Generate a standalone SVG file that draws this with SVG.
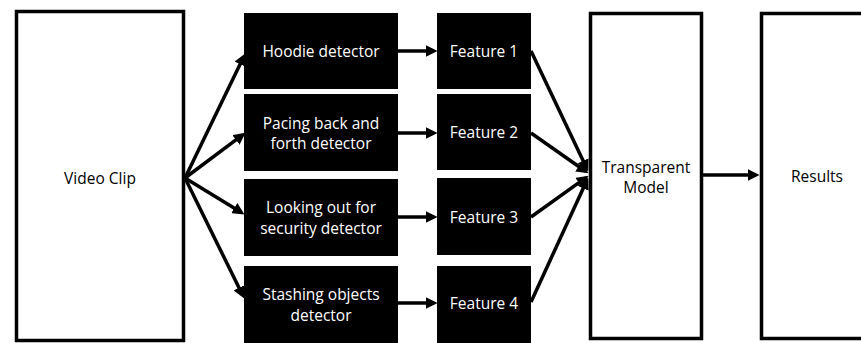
<svg xmlns="http://www.w3.org/2000/svg" width="861" height="343" viewBox="0 0 861 343">
  <defs>
    <marker id="arrow" markerUnits="userSpaceOnUse" markerWidth="12" markerHeight="12" refX="7" refY="5" orient="auto" viewBox="0 0 10 10">
      <path d="M0,0 L10,5 L0,10 z" fill="#000"/>
    </marker>
  </defs>
  <style>
    .frame { fill: #fff; stroke: #000; stroke-width: 3.5; }
    .block { fill: #000; }
    .label { font-family: "Open Sans", "Liberation Sans", sans-serif; font-size: 15.5px; text-anchor: middle; dominant-baseline: central; }
    .dark { fill: #000; }
    .light { fill: #fff; }
    .conn line { stroke: #000; stroke-width: 3.5; marker-end: url(#arrow); }
  </style>
  <rect width="861" height="343" fill="#fff"/>

  <g id="video-clip">
    <rect class="frame" x="16.5" y="11.5" width="167" height="329"/>
    <text class="label dark" x="100" y="178">Video Clip</text>
  </g>

  <g id="hoodie-detector">
    <rect class="block" x="244" y="13" width="154" height="76"/>
    <text class="label light" x="321" y="51">Hoodie detector</text>
  </g>
  <g id="pacing-detector">
    <rect class="block" x="244" y="94" width="154" height="77"/>
    <text class="label light" x="321" y="123">Pacing back and</text>
    <text class="label light" x="321" y="143">forth detector</text>
  </g>
  <g id="lookout-detector">
    <rect class="block" x="244" y="179" width="154" height="77"/>
    <text class="label light" x="321" y="207">Looking out for</text>
    <text class="label light" x="321" y="228">security detector</text>
  </g>
  <g id="stashing-detector">
    <rect class="block" x="244" y="266" width="154" height="77"/>
    <text class="label light" x="321" y="294">Stashing objects</text>
    <text class="label light" x="321" y="315">detector</text>
  </g>

  <g id="feature-1">
    <rect class="block" x="437" y="13" width="94" height="76"/>
    <text class="label light" x="484" y="51">Feature 1</text>
  </g>
  <g id="feature-2">
    <rect class="block" x="437" y="94" width="94" height="76"/>
    <text class="label light" x="484" y="132">Feature 2</text>
  </g>
  <g id="feature-3">
    <rect class="block" x="437" y="178" width="94" height="77"/>
    <text class="label light" x="484" y="217">Feature 3</text>
  </g>
  <g id="feature-4">
    <rect class="block" x="437" y="266" width="94" height="77"/>
    <text class="label light" x="484" y="303">Feature 4</text>
  </g>

  <g id="transparent-model">
    <rect class="frame" x="590.5" y="13.5" width="111" height="325"/>
    <text class="label dark" x="646" y="167">Transparent</text>
    <text class="label dark" x="646" y="187">Model</text>
  </g>

  <g id="results">
    <rect class="frame" x="761.5" y="13.5" width="110" height="325"/>
    <text class="label dark" x="817" y="176">Results</text>
  </g>

  <g id="connectors" class="conn">
    <line x1="185" y1="178" x2="243.7" y2="56.7"/>
    <line x1="185" y1="178" x2="242.6" y2="134.8"/>
    <line x1="185" y1="178" x2="241.4" y2="212.5"/>
    <line x1="185" y1="178" x2="242.7" y2="295.3"/>

    <line x1="398" y1="51" x2="434" y2="51"/>
    <line x1="398" y1="133" x2="434" y2="133"/>
    <line x1="398" y1="217" x2="434" y2="217"/>
    <line x1="398" y1="303" x2="434" y2="303"/>

    <line x1="531" y1="51" x2="586.7" y2="168.3"/>
    <line x1="531" y1="133" x2="585.5" y2="171.3"/>
    <line x1="531" y1="217" x2="585.6" y2="177.8"/>
    <line x1="531" y1="302" x2="586.7" y2="180.7"/>

    <line x1="703" y1="175" x2="756" y2="175"/>
  </g>
</svg>
